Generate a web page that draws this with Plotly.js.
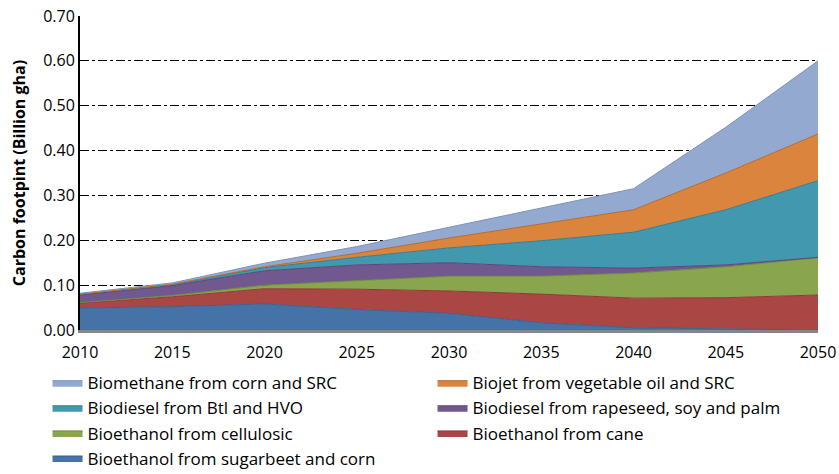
<!DOCTYPE html>
<html>
<head>
<meta charset="utf-8">
<script src="https://cdn.plot.ly/plotly-3.0.1.min.js"></script>
<style>html,body{margin:0;padding:0;background:#fff;}#chart{width:839px;height:474px;}</style>
</head>
<body>
<div id="chart"></div>
<script>
const years = [2010, 2015, 2020, 2025, 2030, 2035, 2040, 2045, 2050];
const sugarbeetCorn = [0.049, 0.052, 0.058, 0.046, 0.037, 0.016, 0.005, 0.002, 0.000];
const cane          = [0.011, 0.022, 0.034, 0.045, 0.050, 0.064, 0.066, 0.070, 0.078];
const cellulosic    = [0.001, 0.003, 0.008, 0.019, 0.033, 0.040, 0.056, 0.069, 0.083];
const rapeseedSoyPalm = [0.017, 0.022, 0.032, 0.035, 0.030, 0.021, 0.011, 0.004, 0.001];
const btlHvo        = [0.002, 0.002, 0.007, 0.017, 0.033, 0.058, 0.080, 0.123, 0.171];
const biojet        = [0.000, 0.001, 0.002, 0.009, 0.022, 0.038, 0.050, 0.082, 0.104];
const biomethane    = [0.002, 0.003, 0.008, 0.015, 0.024, 0.035, 0.047, 0.102, 0.163];

const seriesNames = [
  "Bioethanol from sugarbeet and corn",
  "Bioethanol from cane",
  "Bioethanol from cellulosic",
  "Biodiesel from rapeseed, soy and palm",
  "Biodiesel from Btl and HVO",
  "Biojet from vegetable oil and SRC",
  "Biomethane from corn and SRC"
];
const seriesValues = [sugarbeetCorn, cane, cellulosic, rapeseedSoyPalm, btlHvo, biojet, biomethane];
const fillColors = ["#4572A7", "#AA4643", "#89A54E", "#71588F", "#4198AF", "#DB843D", "#93A9CF"];
const edgeColors = ["#3B6190", "#8E3A38", "#6F8A3F", "#5C4775", "#2F7F95", "#B8692C", "#7E93B8"];

const traces = seriesNames.map((name, i) => ({
  type: "scatter",
  mode: "lines",
  x: years,
  y: seriesValues[i],
  name: name,
  stackgroup: "one",
  fillcolor: fillColors[i],
  line: {color: edgeColors[i], width: 1},
  hoverinfo: "x+y+name"
}));

const font = "'Open Sans', sans-serif";

const layout = {
  width: 839, height: 474,
  margin: {l: 80, r: 21, t: 16, b: 144, autoexpand: false},
  paper_bgcolor: "#fff", plot_bgcolor: "#fff",
  font: {family: font, size: 16, color: "#000"},
  showlegend: true,
  legend: {
    orientation: "h",
    traceorder: "reversed",
    x: -0.044, xanchor: "left",
    y: -0.112, yanchor: "top",
    entrywidth: 340, entrywidthmode: "pixels",
    font: {family: font, size: 17, color: "#000"},
    itemwidth: 30,
    tracegroupgap: 0
  },
  xaxis: {
    range: [2010, 2050],
    tickvals: years,
    ticktext: years.map(String),
    showgrid: false,
    zeroline: false,
    showline: true, linecolor: "#868686", linewidth: 3,
    ticks: "", tickfont: {family: font, size: 16},
    ticklabelstandoff: 6,
    fixedrange: true
  },
  yaxis: {
    range: [0, 0.70],
    dtick: 0.1, tick0: 0,
    tickformat: ".2f",
    showgrid: true, gridcolor: "#000", gridwidth: 1, griddash: "dashdot",
    zeroline: false,
    showline: true, linecolor: "#000", linewidth: 2,
    ticks: "", tickfont: {family: font, size: 16},
    title: {text: "<b>Carbon footpint (Billion gha)</b>", font: {family: font, size: 16}, standoff: 14},
    fixedrange: true
  }
};

Plotly.newPlot("chart", traces, layout, {displayModeBar: false, staticPlot: true});
</script>
</body>
</html>
